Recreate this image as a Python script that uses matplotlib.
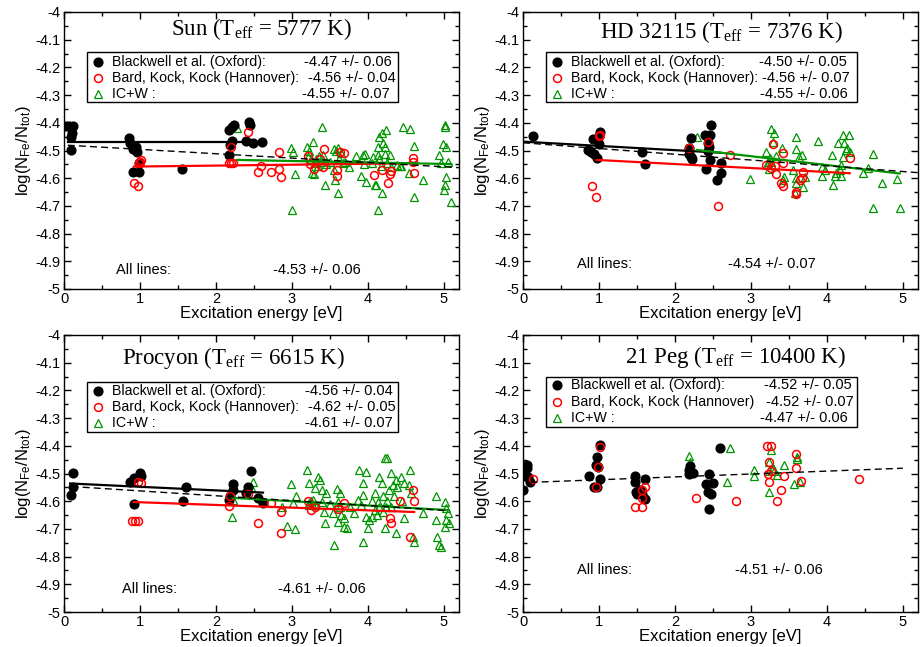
import matplotlib
matplotlib.use('Agg')
import matplotlib.pyplot as plt
from matplotlib.patches import Rectangle
from matplotlib.ticker import MultipleLocator, FuncFormatter

plt.rcParams['font.family'] = ['Liberation Sans', 'DejaVu Sans']
plt.rcParams['axes.unicode_minus'] = False
plt.rcParams['mathtext.default'] = 'regular'

GREEN = '#009400'

# --- Sun ---
sun_ox_x = [0.03, 0.07, 0.12, 0.11, 0.09, 0.09, 0.855, 0.87, 0.91, 0.95, 0.96, 0.91, 0.99, 0.99,
            1.557, 2.17, 2.17, 2.18, 2.21, 2.21, 2.24, 2.40, 2.44, 2.45, 2.49, 2.6]
sun_ox_y = [-4.41, -4.41, -4.41, -4.436, -4.45, -4.498, -4.456, -4.474, -4.495, -4.486, -4.505,
            -4.578, -4.578, -4.545, -4.568, -4.516, -4.426, -4.48, -4.414, -4.466, -4.408,
            -4.466, -4.396, -4.408, -4.474, -4.468]
sun_han_x = [0.925, 0.97, 1.0, 1.02, 0.99, 2.17, 2.2, 2.23, 2.2, 2.42, 2.56, 2.59, 2.72, 2.83,
             2.83, 2.86, 3.21, 3.24, 3.29, 3.37, 3.41, 3.42, 3.59, 3.6, 3.63, 3.69, 4.08, 4.19,
             4.27, 4.29, 4.3, 4.59, 4.59, 4.61]
sun_han_y = [-4.616, -4.627, -4.54, -4.534, -4.545, -4.544, -4.544, -4.544, -4.487, -4.434,
             -4.579, -4.556, -4.577, -4.505, -4.568, -4.597, -4.52, -4.55, -4.565, -4.53,
             -4.561, -4.496, -4.57, -4.591, -4.504, -4.508, -4.588, -4.57, -4.616, -4.585,
             -4.574, -4.528, -4.54, -4.58]
sun_icw_x = [2.28, 2.99, 3.01, 3.04, 3.0, 3.2, 3.28, 3.27, 3.4, 3.43, 3.21, 3.36, 3.41, 3.61,
             3.61, 3.55, 3.57, 3.65, 3.67, 3.96, 3.91, 3.98, 4.07, 4.14, 4.15, 4.18, 4.2, 4.23,
             4.24, 4.22, 4.13, 4.17, 4.11, 4.18, 4.14, 4.29, 4.39, 4.46, 4.55, 4.44, 4.54, 4.61,
             4.61, 4.72, 4.94, 5.01, 5.02, 4.99, 5.03, 4.96, 5.03, 5.01, 5.09, 5.05, 3.25, 3.3,
             3.35, 3.32, 3.38, 3.45, 3.5, 3.7, 3.75, 3.62, 4.25, 4.3, 4.15, 4.05, 3.95, 3.85,
             3.29, 4.09, 5.0, 3.22, 3.56, 3.58, 3.94, 4.42]
sun_icw_y = [-4.42, -4.492, -4.504, -4.585, -4.715, -4.486, -4.468, -4.583, -4.414, -4.625,
             -4.522, -4.52, -4.516, -4.492, -4.655, -4.57, -4.607, -4.51, -4.546, -4.513,
             -4.592, -4.613, -4.522, -4.486, -4.45, -4.438, -4.474, -4.486, -4.426, -4.514,
             -4.516, -4.555, -4.625, -4.655, -4.715, -4.516, -4.552, -4.414, -4.423, -4.555,
             -4.583, -4.484, -4.667, -4.607, -4.516, -4.408, -4.416, -4.476, -4.486, -4.546,
             -4.595, -4.625, -4.685, -4.54, -4.53, -4.545, -4.555, -4.53, -4.54, -4.55, -4.54,
             -4.54, -4.56, -4.53, -4.545, -4.56, -4.53, -4.545, -4.55, -4.52, -4.586, -4.625,
             -4.643, -4.50, -4.495, -4.50, -4.518, -4.556]
sun_fit_ox = ([0.05, 2.62], [-4.468, -4.468])
sun_fit_han = ([0.92, 4.62], [-4.558, -4.546])
sun_fit_icw = ([2.28, 5.1], [-4.534, -4.549])
sun_fit_all = ([0.05, 5.2], [-4.481, -4.562])

# --- HD 32115 ---
hd_ox_x = [0.13, 0.92, 1.01, 1.0, 1.0, 0.86, 0.9, 0.93, 0.97, 1.56, 1.61, 2.21, 2.18, 2.21, 2.23,
           2.19, 2.48, 2.39, 2.46, 2.44, 2.45, 2.46, 2.41, 2.56, 2.61, 2.61, 2.43]
hd_ox_y = [-4.447, -4.458, -4.434, -4.446, -4.478, -4.498, -4.504, -4.513, -4.528, -4.507,
           -4.549, -4.456, -4.513, -4.522, -4.531, -4.49, -4.408, -4.444, -4.444, -4.474,
           -4.486, -4.535, -4.568, -4.606, -4.582, -4.544, -4.5]
hd_han_x = [0.91, 0.96, 1.0, 1.02, 2.19, 2.43, 2.73, 2.57, 3.29, 3.2, 3.27, 3.33, 3.32, 3.42,
            3.42, 3.4, 3.42, 3.6, 3.6, 3.67, 3.69, 3.65, 4.31]
hd_han_y = [-4.627, -4.667, -4.448, -4.444, -4.492, -4.468, -4.516, -4.699, -4.476, -4.552,
            -4.562, -4.586, -4.555, -4.508, -4.546, -4.616, -4.628, -4.649, -4.657, -4.6,
            -4.576, -4.607, -4.528]
hd_icw_x = [2.29, 2.99, 3.26, 3.31, 3.29, 3.2, 3.22, 3.24, 3.25, 3.26, 3.23, 3.33, 3.41, 3.42,
            3.43, 3.55, 3.6, 3.6, 3.63, 3.67, 3.6, 3.6, 3.58, 3.69, 3.71, 3.89, 3.93, 3.97, 3.93,
            4.08, 4.07, 4.11, 4.19, 4.17, 4.19, 4.15, 4.23, 4.21, 4.29, 4.26, 4.21, 4.25, 4.3,
            4.48, 4.54, 4.61, 4.73, 4.92, 4.61, 4.96, 4.12]
hd_icw_y = [-4.452, -4.604, -4.424, -4.436, -4.468, -4.504, -4.54, -4.565, -4.528, -4.54,
            -4.55, -4.52, -4.49, -4.606, -4.595, -4.57, -4.452, -4.496, -4.522, -4.518, -4.6,
            -4.616, -4.655, -4.633, -4.595, -4.465, -4.558, -4.57, -4.592, -4.625, -4.516,
            -4.592, -4.592, -4.57, -4.552, -4.474, -4.474, -4.444, -4.444, -4.49, -4.522,
            -4.498, -4.504, -4.582, -4.563, -4.514, -4.616, -4.604, -4.706, -4.706, -4.583]
hd_fit_ox = ([0.0, 2.6], [-4.468, -4.508])
hd_fit_han = ([0.97, 4.3], [-4.534, -4.582])
hd_fit_icw = ([2.29, 4.96], [-4.498, -4.583])
hd_fit_all = ([0.0, 5.2], [-4.472, -4.58])

# --- Procyon ---
pro_ox_x = [0.12, 0.12, 0.09, 0.87, 0.92, 1.0, 1.01, 0.92, 1.61, 1.56, 2.23, 2.22, 2.18, 2.17,
            2.46, 2.42, 2.4, 2.56, 2.62]
pro_ox_y = [-4.499, -4.548, -4.578, -4.53, -4.517, -4.499, -4.51, -4.61, -4.548, -4.598,
            -4.539, -4.56, -4.583, -4.596, -4.49, -4.548, -4.571, -4.587, -4.608]
pro_han_x = [0.9, 0.94, 0.97, 0.98, 1.02, 2.17, 2.18, 2.42, 2.56, 2.73, 2.86, 2.86, 3.21, 3.25,
             3.3, 3.61, 3.69, 4.29, 4.3, 4.42, 4.59, 4.61, 4.55]
pro_han_y = [-4.671, -4.671, -4.671, -4.529, -4.535, -4.617, -4.583, -4.575, -4.68, -4.605,
             -4.638, -4.715, -4.6, -4.632, -4.62, -4.629, -4.608, -4.662, -4.68, -4.6, -4.56,
             -4.6, -4.73]
pro_icw_x = [2.21, 2.49, 2.46, 2.22, 2.87, 2.99, 3.05, 2.94, 3.04, 3.01, 3.2, 3.23, 3.3, 3.34,
             3.37, 3.39, 3.4, 3.42, 3.43, 3.28, 3.23, 3.56, 3.59, 3.63, 3.61, 3.63, 3.65, 3.68,
             3.61, 3.69, 3.72, 3.54, 3.88, 3.93, 3.93, 3.98, 3.91, 3.97, 3.93, 4.09, 4.13, 4.15,
             4.18, 4.22, 4.25, 4.2, 4.24, 4.28, 4.31, 4.33, 4.37, 4.39, 4.44, 4.48, 4.55, 4.54,
             4.57, 4.47, 4.37, 4.61, 4.59, 4.72, 4.9, 4.9, 4.91, 4.94, 4.96, 5.01, 5.03, 5.05,
             5.03, 5.07, 5.01, 4.06, 4.22, 4.02, 4.0, 3.76, 3.82, 3.87, 3.25, 3.27, 3.22, 3.3,
             4.15, 4.2, 4.1, 4.25, 4.3, 4.05, 4.12, 4.35, 4.45, 3.5, 3.45]
pro_icw_y = [-4.658, -4.529, -4.548, -4.596, -4.62, -4.538, -4.58, -4.688, -4.7, -4.608,
             -4.487, -4.533, -4.553, -4.511, -4.523, -4.56, -4.602, -4.638, -4.677, -4.596,
             -4.614, -4.758, -4.557, -4.572, -4.602, -4.62, -4.65, -4.662, -4.674, -4.692,
             -4.698, -4.644, -4.487, -4.535, -4.577, -4.493, -4.614, -4.656, -4.746, -4.571,
             -4.602, -4.511, -4.535, -4.445, -4.445, -4.583, -4.62, -4.56, -4.499, -4.541,
             -4.523, -4.548, -4.511, -4.535, -4.487, -4.541, -4.571, -4.662, -4.716, -4.746,
             -4.728, -4.644, -4.583, -4.668, -4.728, -4.758, -4.764, -4.602, -4.626, -4.644,
             -4.668, -4.68, -4.692, -4.656, -4.698, -4.668, -4.698, -4.62, -4.644, -4.596,
             -4.6, -4.61, -4.605, -4.615, -4.62, -4.64, -4.63, -4.6, -4.62, -4.6, -4.65, -4.58,
             -4.6, -4.61, -4.57]
pro_fit_ox = ([0.08, 2.62], [-4.536, -4.569])
pro_fit_han = ([0.92, 4.61], [-4.603, -4.639])
pro_fit_icw = ([2.22, 5.05], [-4.588, -4.632])
pro_fit_all = ([0.1, 5.05], [-4.547, -4.634])

# --- 21 Peg ---
peg_ox_x = [0.0, 0.0, 0.05, 0.05, 0.03, 0.09, 0.07, 0.87, 0.96, 0.97, 1.01, 1.01, 0.94, 0.97,
            0.99, 1.48, 1.48, 1.49, 1.61, 1.54, 1.56, 1.61, 1.5, 2.19, 2.2, 2.19, 2.24, 2.45,
            2.41, 2.5, 2.44, 2.47, 2.45, 2.59]
peg_ox_y = [-4.56, -4.509, -4.469, -4.481, -4.505, -4.53, -4.511, -4.508, -4.469, -4.439,
            -4.397, -4.521, -4.55, -4.55, -4.478, -4.508, -4.53, -4.566, -4.52, -4.56, -4.575,
            -4.592, -4.575, -4.487, -4.472, -4.5, -4.497, -4.5, -4.538, -4.533, -4.566,
            -4.574, -4.629, -4.409]
peg_han_x = [0.13, 1.01, 0.99, 0.96, 1.48, 1.56, 1.56, 1.57, 1.61, 2.28, 2.81, 3.21, 3.27,
             3.24, 3.23, 3.27, 3.24, 3.4, 3.34, 3.44, 3.6, 3.6, 3.66, 4.42]
peg_han_y = [-4.521, -4.405, -4.478, -4.55, -4.62, -4.62, -4.56, -4.59, -4.55, -4.59, -4.6,
             -4.4, -4.4, -4.458, -4.5, -4.49, -4.532, -4.56, -4.6, -4.508, -4.43, -4.479,
             -4.526, -4.52]
peg_icw_x = [2.19, 2.2, 2.73, 2.69, 3.04, 3.04, 3.26, 3.24, 3.29, 3.3, 3.24, 3.35, 3.43, 3.24,
             3.57, 3.61, 3.61, 3.65]
peg_icw_y = [-4.437, -4.457, -4.407, -4.53, -4.487, -4.508, -4.415, -4.457, -4.479, -4.49,
             -4.49, -4.505, -4.469, -4.568, -4.538, -4.439, -4.449, -4.53]
peg_fit_all = ([0.1, 5.0], [-4.532, -4.481])

# panel texts
sun_title = 'Sun (T$_{eff}$ = 5777 K)'
hd_title = 'HD 32115 (T$_{eff}$ = 7376 K)'
pro_title = 'Procyon (T$_{eff}$ = 6615 K)'
peg_title = '21 Peg (T$_{eff}$ = 10400 K)'

sun_vals = ['-4.47 +/- 0.06', '-4.56 +/- 0.04', '-4.55 +/- 0.07', '-4.53 +/- 0.06']
hd_vals = ['-4.50 +/- 0.05', '-4.56 +/- 0.07', '-4.55 +/- 0.06', '-4.54 +/- 0.07']
pro_vals = ['-4.56 +/- 0.04', '-4.62 +/- 0.05', '-4.61 +/- 0.07', '-4.61 +/- 0.06']
peg_vals = ['-4.52 +/- 0.05', '-4.52 +/- 0.07', '-4.47 +/- 0.06', '-4.51 +/- 0.06']

names = ['Blackwell et al. (Oxford):', 'Bard, Kock, Kock (Hannover):', 'IC+W :']
peg_names = ['Blackwell et al. (Oxford):', 'Bard, Kock, Kock (Hannover)', 'IC+W :']

W, H = 921, 647
fig = plt.figure(figsize=(W / 100, H / 100), dpi=100)


def add_panel(left, top, right, bottom):
    return fig.add_axes([left / W, 1 - bottom / H, (right - left) / W, (bottom - top) / H])


def style_axes(ax):
    ax.set_xlim(0, 5.2)
    ax.set_ylim(-5, -4)
    ax.xaxis.set_major_locator(MultipleLocator(1))
    ax.xaxis.set_minor_locator(MultipleLocator(0.5))
    ax.yaxis.set_major_locator(MultipleLocator(0.1))
    ax.yaxis.set_minor_locator(MultipleLocator(0.05))
    ax.xaxis.set_major_formatter(FuncFormatter(lambda v, p: f'{v:g}'))
    ax.yaxis.set_major_formatter(FuncFormatter(lambda v, p: f'{round(v, 2):g}'))
    ax.tick_params(which='both', direction='in', top=True, right=True, width=1, labelsize=10.5)
    ax.tick_params(which='major', length=5, pad=2.5)
    ax.tick_params(which='minor', length=3)
    for s in ax.spines.values():
        s.set_linewidth(1)
    ax.set_xlabel('Excitation energy [eV]', fontsize=12, labelpad=0)
    ax.set_ylabel('log(N$_{Fe}$/N$_{tot}$)', fontsize=12, labelpad=2)


def draw_points(ax, ox, han, icw):
    if icw:
        ax.plot(icw[0], icw[1], '^', ms=5.5, mfc='none', mec=GREEN, mew=0.9, ls='none', zorder=2)
    if han:
        ax.plot(han[0], han[1], 'o', ms=5.7, mfc='none', mec='red', mew=1.1, ls='none', zorder=3)
    if ox:
        ax.plot(ox[0], ox[1], 'o', ms=6.3, color='black', ls='none', zorder=2.5)


def draw_fits(ax, fit_ox=None, fit_han=None, fit_icw=None, fit_all=None):
    if fit_ox:
        ax.plot(*fit_ox, color='black', lw=1.6, zorder=4)
    if fit_han:
        ax.plot(*fit_han, color='red', lw=1.6, zorder=4)
    if fit_icw:
        ax.plot(*fit_icw, color=GREEN, lw=1.6, zorder=4)
    if fit_all:
        ax.plot(*fit_all, color='black', lw=1, ls=(0, (5, 3)), zorder=4)


def draw_key(ax, labels, vals, box_top, box_bottom, rows, val_x=(0.607, 0.617, 0.603)):
    ax.add_patch(Rectangle((0.058, box_bottom), 0.846 - 0.058, box_top - box_bottom,
                           transform=ax.transAxes, facecolor='white', edgecolor='black',
                           lw=1, zorder=6))
    styles = [dict(marker='o', ms=6.3, color='black'),
              dict(marker='o', ms=5.7, mfc='none', mec='red', mew=1.1),
              dict(marker='^', ms=5.5, mfc='none', mec=GREEN, mew=0.9)]
    for lab, val, ry, vx, st in zip(labels, vals, rows, val_x, styles):
        ax.plot([0.086], [ry], ls='none', transform=ax.transAxes, zorder=7, **st)
        ax.text(0.121, ry, lab, transform=ax.transAxes, fontsize=10.2, va='center', zorder=7)
        ax.text(vx, ry, val, transform=ax.transAxes, fontsize=10.5, va='center', zorder=7)


def draw_texts(ax, title, tx, ty, all_val, ay, ax_lbl, ax_val):
    ax.text(tx, ty, title, transform=ax.transAxes, ha='center', va='baseline',
            fontsize=16.5, family=['Liberation Serif', 'DejaVu Serif'])
    ax.text(ax_lbl, ay, 'All lines:', transform=ax.transAxes, fontsize=10.5, va='center')
    ax.text(ax_val, ay, all_val, transform=ax.transAxes, fontsize=10.5, va='center')


# top left: Sun
ax1 = add_panel(64, 12, 459, 289)
style_axes(ax1)
draw_points(ax1, (sun_ox_x, sun_ox_y), (sun_han_x, sun_han_y), (sun_icw_x, sun_icw_y))
draw_fits(ax1, sun_fit_ox, sun_fit_han, sun_fit_icw, sun_fit_all)
draw_key(ax1, names, sun_vals[:3], 0.856, 0.675, [0.821, 0.761, 0.703])
draw_texts(ax1, sun_title, 0.499, 0.917, sun_vals[3], 0.069, 0.132, 0.53)

# top right: HD 32115
ax2 = add_panel(523, 12, 918, 289)
style_axes(ax2)
draw_points(ax2, (hd_ox_x, hd_ox_y), (hd_han_x, hd_han_y), (hd_icw_x, hd_icw_y))
draw_fits(ax2, hd_fit_ox, hd_fit_han, hd_fit_icw, hd_fit_all)
draw_key(ax2, names, hd_vals[:3], 0.854, 0.674, [0.821, 0.761, 0.703],
         val_x=(0.598, 0.606, 0.600))
draw_texts(ax2, hd_title, 0.501, 0.905, hd_vals[3], 0.089, 0.137, 0.52)

# bottom left: Procyon
ax3 = add_panel(64, 335, 459, 612)
style_axes(ax3)
draw_points(ax3, (pro_ox_x, pro_ox_y), (pro_han_x, pro_han_y), (pro_icw_x, pro_icw_y))
draw_fits(ax3, pro_fit_ox, pro_fit_han, pro_fit_icw, pro_fit_all)
draw_key(ax3, names, pro_vals[:3], 0.831, 0.651, [0.798, 0.739, 0.681],
         val_x=(0.610, 0.617, 0.610))
draw_texts(ax3, pro_title, 0.429, 0.894, pro_vals[3], 0.082, 0.146, 0.543)

# bottom right: 21 Peg
ax4 = add_panel(523, 335, 918, 612)
style_axes(ax4)
draw_points(ax4, (peg_ox_x, peg_ox_y), (peg_han_x, peg_han_y), (peg_icw_x, peg_icw_y))
draw_fits(ax4, fit_all=peg_fit_all)
draw_key(ax4, peg_names, peg_vals[:3], 0.849, 0.669, [0.819, 0.759, 0.699],
         val_x=(0.610, 0.615, 0.600))
draw_texts(ax4, peg_title, 0.538, 0.898, peg_vals[3], 0.152, 0.136, 0.537)

fig.savefig('out.png', dpi=100)
